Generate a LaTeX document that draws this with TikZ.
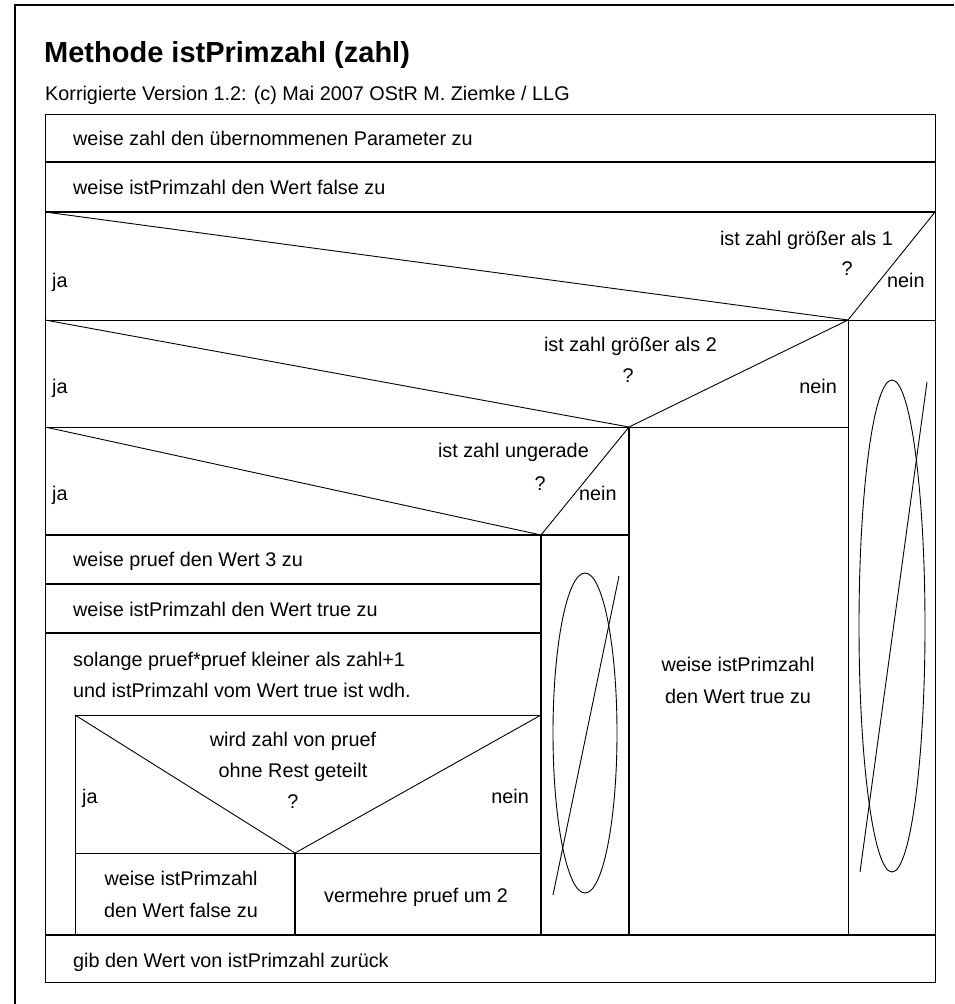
\documentclass[tikz,border=0pt]{standalone}
\usepackage{fontspec}
\setmainfont{Liberation Sans}
\usetikzlibrary{positioning}

\tikzset{
  nsthin/.style={line width=0.9pt},
  nsthick/.style={line width=2.7pt},
  nstext/.style={inner sep=0pt, font=\fontsize{19.8}{32}\selectfont},
}

\begin{document}
\begin{tikzpicture}[x=1pt, y=-1pt]
\useasboundingbox (0,0) rectangle (954,1004);
\draw[line width=1.2pt] (15,1004) -- (15,5) -- (954,5);

\node[inner sep=0pt, anchor=base west, font=\fontsize{29}{34}\selectfont\bfseries] (title) at (44,62) {Methode istPrimzahl (zahl)};
\node[nstext, anchor=base west] (author) at (45,100) {Korrigierte Version 1.2: (c) Mai 2007 OStR M. Ziemke / LLG};

% corners of the structure
\coordinate (tl) at (45,114);
\coordinate (br) at (935,982);
\coordinate (v1) at (848,320);
\coordinate (v2) at (629,427);
\coordinate (v3) at (541,535);
\coordinate (v4) at (295,853);
\coordinate (in) at (75,715);

\draw[nsthin] (tl) rectangle (br);
\draw[nsthick] (45,162) -- (935,162);
\draw[nsthick] (45,212) -- (935,212);
\draw[nsthin] (45,320) -- (935,320);
\draw[nsthin] (45,427) -- (848,427);
\draw[nsthick] (45,535) -- (629,535);
\draw[nsthick] (45,584) -- (541,584);
\draw[nsthick] (45,633) -- (541,633);
\draw[nsthick] (45,935) -- (935,935);
\draw[nsthin] (v1) -- (848,935);
\draw[nsthick] (v2) -- (629,935);
\draw[nsthick] (v3) -- (541,935);
\draw[nsthin] (541,715) -- (in) -- (75,935);
\draw[nsthin] (75,853) -- (541,853);
\draw[nsthick] (v4) -- (295,935);

% decisions
\draw[nsthin] (45,212) -- (v1) -- (935,212);
\draw[nsthin] (45,320) -- (v2) -- (v1);
\draw[nsthin] (45,427) -- (v3) -- (v2);
\draw[nsthin] (in) -- (v4) -- (541,715);

% empty branches
\draw[nsthin] (585,733) ellipse [x radius=32, y radius=160];
\draw[nsthin] (619,576) -- (553,895);
\draw[nsthin] (892,626) ellipse [x radius=33, y radius=246];
\draw[nsthin] (927,382) -- (860,872);

\node[nstext, anchor=base west] (s1) at (73,145) {weise zahl den übernommenen Parameter zu};
\node[nstext, anchor=base west] (s2) at (73,194) {weise istPrimzahl den Wert false zu};

\node[nstext, anchor=base east] (q1) at (893,245) {ist zahl größer als 1};
\node[nstext, anchor=base] (q1m) at (847,275) {?};
\node[nstext, anchor=base west] (q1n) at (887,287) {nein};
\node[nstext, anchor=base west] (q1j) at (52,287) {ja};

\node[nstext, anchor=base east] (q2) at (717,351) {ist zahl größer als 2};
\node[nstext, anchor=base] (q2m) at (628,382) {?};
\node[nstext, anchor=base east] (q2n) at (837,393) {nein};
\node[nstext, anchor=base west] (q2j) at (52,393) {ja};

\node[nstext, anchor=base east] (q3) at (589,457) {ist zahl ungerade};
\node[nstext, anchor=base] (q3m) at (540,490) {?};
\node[nstext, anchor=base west] (q3n) at (579,500) {nein};
\node[nstext, anchor=base west] (q3j) at (52,500) {ja};

\node[nstext, anchor=base] (t1) at (738,671) {weise istPrimzahl};
\node[nstext, anchor=base] (t2) at (738,703) {den Wert true zu};

\node[nstext, anchor=base west] (s3) at (73,566) {weise pruef den Wert 3 zu};
\node[nstext, anchor=base west] (s4) at (73,616) {weise istPrimzahl den Wert true zu};

\node[nstext, anchor=base west] (w1) at (73,666) {solange pruef*pruef kleiner als zahl+1};
\node[nstext, anchor=base west] (w2) at (73,697) {und istPrimzahl vom Wert true ist wdh.};

\node[nstext, anchor=base] (q4a) at (293,746) {wird zahl von pruef};
\node[nstext, anchor=base] (q4b) at (293,777) {ohne Rest geteilt};
\node[nstext, anchor=base] (q4m) at (293,808) {?};
\node[nstext, anchor=base west] (q4j) at (82,803) {ja};
\node[nstext, anchor=base east] (q4n) at (529,803) {nein};

\node[nstext, anchor=base] (f1) at (181,885) {weise istPrimzahl};
\node[nstext, anchor=base] (f2) at (181,917) {den Wert false zu};
\node[nstext, anchor=base] (inc) at (416,902) {vermehre pruef um 2};

\node[nstext, anchor=base west] (ret) at (73,967) {gib den Wert von istPrimzahl zurück};
\end{tikzpicture}
\end{document}
